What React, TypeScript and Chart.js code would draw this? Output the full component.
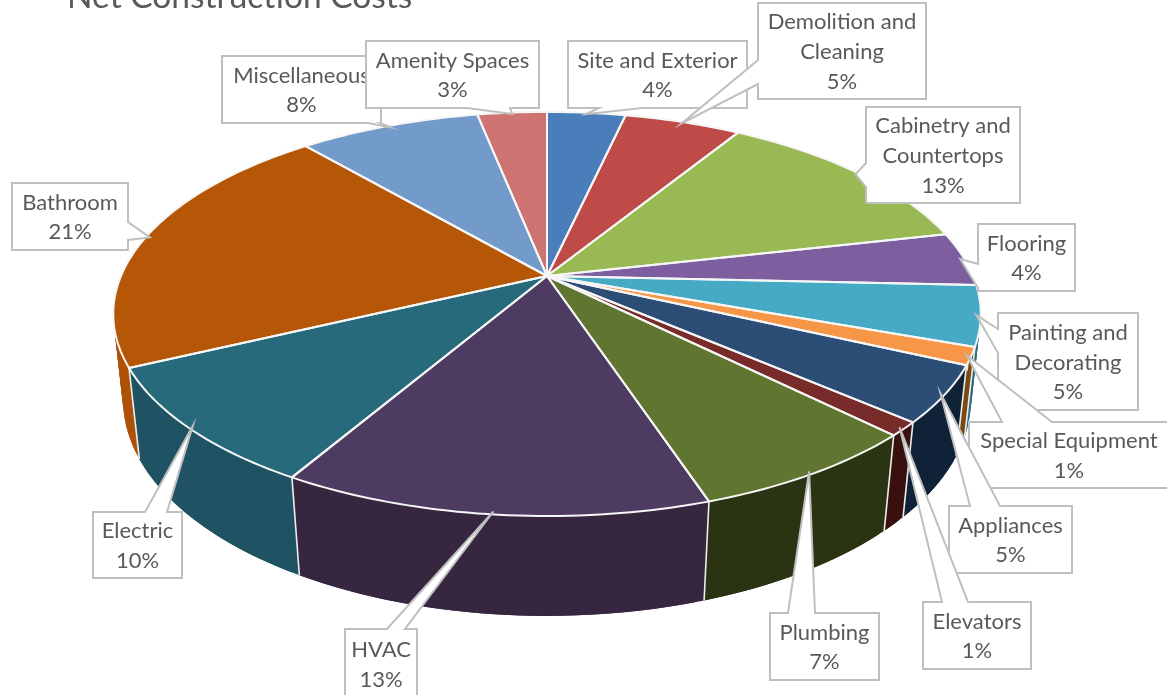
import React, { useEffect, useRef } from "react";
import { Chart, registerables } from "chart.js";

Chart.register(...registerables);

const TITLE = "Net Construction Costs";
const categories = [
  ["Site and Exterior"],
  ["Demolition and", "Cleaning"],
  ["Cabinetry and", "Countertops"],
  ["Flooring"],
  ["Painting and", "Decorating"],
  ["Special Equipment"],
  ["Appliances"],
  ["Elevators"],
  ["Plumbing"],
  ["HVAC"],
  ["Electric"],
  ["Bathroom"],
  ["Miscellaneous"],
  ["Amenity Spaces"],
];
const costShares = [3.5, 5.2, 12.7, 4.3, 4.8, 1.4, 4.5, 1.1, 7.4, 13.4, 9.5, 20.9, 8.1, 3.1];
const topColors = [
  "#4A7EBB", "#BE4B48", "#98B954", "#7D5FA0", "#46AAC4", "#F79646", "#2C4D75",
  "#772C2A", "#5F7530", "#4D3B62", "#276A7C", "#B65708", "#729ACA", "#CD7371",
];
const wallColors = [
  "#2F5179", "#7B302E", "#627836", "#513D67", "#2D6E80", "#7B4A14", "#0F2238",
  "#38110F", "#2B3412", "#36263F", "#1F5363", "#AD5207", "#4A6A90", "#8A4A48",
];

// Projection of the unit pie on to the page (perspective view)
const TOP_PLANE = { x0: 547, y0: 276, a: 426, b: 194.9, p: 0.188 };
const BOTTOM_PLANE = { x0: 547, y0: 361, a: 417, b: 209, p: 0.18 };

type Plane = typeof TOP_PLANE;
const project = (pl: Plane, angle: number, r = 1) => {
  const th = angle + Math.PI / 2;
  const u = r * Math.sin(th);
  const v = -r * Math.cos(th);
  const w = 1 - pl.p * v;
  return { x: pl.x0 + (pl.a * u) / w, y: pl.y0 + (pl.b * v) / w };
};

const arcPoints = (pl: Plane, a0: number, a1: number) => {
  const n = Math.max(2, Math.ceil(Math.abs(a1 - a0) / 0.02));
  const pts = [];
  for (let i = 0; i <= n; i++) pts.push(project(pl, a0 + ((a1 - a0) * i) / n));
  return pts;
};

// Callout boxes: [x, y, w, h], the edge that carries the pointer, and the pointer base along that edge.
type Callout = { box: number[]; edge: "top" | "right" | "bottom" | "left"; base: number[] };
const callouts: Callout[] = [
  { box: [568, 41, 179, 67], edge: "bottom", base: [599, 642] },
  { box: [758, 3, 168, 96], edge: "left", base: [60, 84] },
  { box: [866, 107, 154, 96], edge: "left", base: [163, 187] },
  { box: [978, 224, 97, 67], edge: "left", base: [264, 288] },
  { box: [998, 313, 140, 97], edge: "left", base: [329, 353] },
  { box: [969, 422, 200, 66], edge: "top", base: [1002, 1052] },
  { box: [949, 506, 123, 67], edge: "top", base: [970, 1000] },
  { box: [923, 602, 108, 67], edge: "top", base: [942, 968] },
  { box: [770, 613, 109, 67], edge: "top", base: [788, 815] },
  { box: [345, 629, 72, 70], edge: "top", base: [387, 405] },
  { box: [93, 512, 89, 66], edge: "top", base: [145, 167] },
  { box: [12, 183, 116, 67], edge: "right", base: [222, 240] },
  { box: [222, 56, 159, 67], edge: "bottom", base: [368, 380] },
  { box: [366, 41, 173, 67], edge: "bottom", base: [467, 510] },
];

const FONT = "Lato, sans-serif";
const LINE_HEIGHT = 29.6;

const pie3d = {
  id: "pie3d",
  beforeDatasetsDraw(chart: any) {
    const { ctx } = chart;
    const arcs = chart.getDatasetMeta(0).data;
    const total = costShares.reduce((s, v) => s + v, 0);

    ctx.save();
    ctx.lineJoin = "round";

    // Walls: one strip of overlapping quads between the top and bottom rims
    arcs.forEach((arc: any, i: number) => {
      const top = arcPoints(TOP_PLANE, arc.startAngle, arc.endAngle);
      const bottom = arcPoints(BOTTOM_PLANE, arc.startAngle, arc.endAngle);
      ctx.fillStyle = wallColors[i];
      for (let k = 0; k < top.length - 1; k++) {
        const e = Math.min(k + 2, top.length - 1);
        ctx.beginPath();
        ctx.moveTo(top[k].x, top[k].y);
        ctx.lineTo(top[e].x, top[e].y);
        ctx.lineTo(bottom[e].x, bottom[e].y);
        ctx.lineTo(bottom[k].x, bottom[k].y);
        ctx.closePath();
        ctx.fill();
      }
    });
    arcs.forEach((arc: any) => {
      const a = project(TOP_PLANE, arc.startAngle);
      const b = project(BOTTOM_PLANE, arc.startAngle);
      ctx.beginPath();
      ctx.moveTo(a.x, a.y);
      ctx.lineTo(b.x, b.y);
      ctx.strokeStyle = "#EDEDED";
      ctx.lineWidth = 1.6;
      ctx.stroke();
    });

    // Top face
    arcs.forEach((arc: any) => {
      const pts = arcPoints(TOP_PLANE, arc.startAngle, arc.endAngle);
      ctx.beginPath();
      ctx.moveTo(TOP_PLANE.x0, TOP_PLANE.y0);
      pts.forEach((p: any) => ctx.lineTo(p.x, p.y));
      ctx.closePath();
      ctx.fillStyle = arc.options.backgroundColor;
      ctx.fill();
    });
    arcs.forEach((arc: any) => {
      const pts = arcPoints(TOP_PLANE, arc.startAngle, arc.endAngle);
      ctx.beginPath();
      ctx.moveTo(TOP_PLANE.x0, TOP_PLANE.y0);
      pts.forEach((p: any) => ctx.lineTo(p.x, p.y));
      ctx.closePath();
      ctx.strokeStyle = "#F6F6F6";
      ctx.lineWidth = 2;
      ctx.stroke();
    });

    // Callouts
    callouts.forEach((c, i) => {
      const arc = arcs[i];
      const tip = project(TOP_PLANE, (arc.startAngle + arc.endAngle) / 2, 0.99);
      const [x, y, w, h] = c.box;
      const [b0, b1] = c.base;
      ctx.beginPath();
      ctx.moveTo(x, y);
      if (c.edge === "top") {
        ctx.lineTo(b0, y);
        ctx.lineTo(tip.x, tip.y);
        ctx.lineTo(b1, y);
      }
      ctx.lineTo(x + w, y);
      if (c.edge === "right") {
        ctx.lineTo(x + w, b0);
        ctx.lineTo(tip.x, tip.y);
        ctx.lineTo(x + w, b1);
      }
      ctx.lineTo(x + w, y + h);
      if (c.edge === "bottom") {
        ctx.lineTo(b1, y + h);
        ctx.lineTo(tip.x, tip.y);
        ctx.lineTo(b0, y + h);
      }
      ctx.lineTo(x, y + h);
      if (c.edge === "left") {
        ctx.lineTo(x, b1);
        ctx.lineTo(tip.x, tip.y);
        ctx.lineTo(x, b0);
      }
      ctx.closePath();
      ctx.fillStyle = "#FFFFFF";
      ctx.fill();
      ctx.strokeStyle = "#BFBFBF";
      ctx.lineWidth = 2;
      ctx.lineJoin = "miter";
      ctx.stroke();

      const pct = Math.round((costShares[i] / total) * 100) + "%";
      const lines = [...categories[i], pct];
      ctx.fillStyle = "#595959";
      ctx.font = `22px ${FONT}`;
      ctx.textAlign = "center";
      ctx.textBaseline = "middle";
      const cx = x + w / 2;
      const cy = y + h / 2 + 1;
      lines.forEach((t, k) => {
        ctx.fillText(t, cx, cy + (k - (lines.length - 1) / 2) * LINE_HEIGHT);
      });
    });

    // Title, cut off by the top of the page as in the picture
    ctx.fillStyle = "#595959";
    ctx.font = `400 33.5px ${FONT}`;
    ctx.textAlign = "left";
    ctx.textBaseline = "alphabetic";
    ctx.fillText(TITLE, 67, 8);

    ctx.restore();
    return false;
  },
};

export default function App() {
  const ref = useRef<HTMLCanvasElement>(null);
  useEffect(() => {
    document.body.style.margin = "0";
    document.body.style.background = "#FFFFFF";
    const chart = new Chart(ref.current as HTMLCanvasElement, {
      type: "pie",
      data: {
        labels: categories.map((c) => c.join(" ")),
        datasets: [{ data: costShares, backgroundColor: topColors, borderWidth: 0 }],
      },
      options: {
        animation: false,
        responsive: false,
        plugins: { legend: { display: false }, tooltip: { enabled: false } },
      },
      plugins: [pie3d],
    } as any);
    return () => chart.destroy();
  }, []);
  return (
    <canvas
      ref={ref}
      width={1167}
      height={695}
      style={{ display: "block", width: 1167, height: 695 }}
    />
  );
}
